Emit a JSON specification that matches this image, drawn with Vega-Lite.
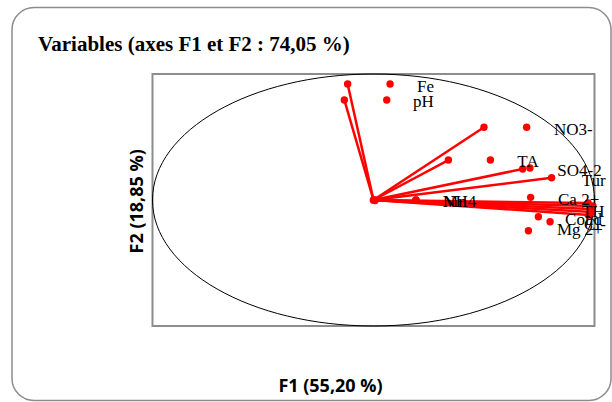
{
  "$schema": "https://vega.github.io/schema/vega-lite/v6.json",
  "width": 599,
  "height": 393,
  "autosize": "none",
  "padding": {"left": 12, "top": 7.5, "right": 1, "bottom": 1.5},
  "background": "white",
  "title": {
    "text": "Variables (axes F1 et F2 : 74,05 %)",
    "font": "Liberation Serif",
    "fontSize": 21,
    "fontWeight": "bold",
    "color": "black",
    "anchor": "start",
    "frame": "group",
    "baseline": "alphabetic",
    "offset": 0,
    "dx": 26,
    "dy": 64
  },
  "config": {
    "view": {"stroke": "#8c8c8c", "strokeWidth": 1.5, "cornerRadius": 22},
    "axis": {"grid": false, "domain": false, "ticks": false, "labels": false,
      "titleFont": "Open Sans", "titleFontSize": 18, "titleFontWeight": "bold", "titleColor": "black"}
  },
  "datasets": {
    "vectors": [
      {"variable": "Fe", "F1": -0.117, "F2": 0.921},
      {"variable": "pH", "F1": -0.132, "F2": 0.794},
      {"variable": "NO3-", "F1": 0.500, "F2": 0.577},
      {"variable": "TA", "F1": 0.339, "F2": 0.317},
      {"variable": "SO4-2", "F1": 0.675, "F2": 0.246},
      {"variable": "Tur", "F1": 0.806, "F2": 0.177},
      {"variable": "NH4", "F1": 0.007, "F2": 0.000},
      {"variable": "Mn", "F1": 0.007, "F2": -0.004},
      {"variable": "Ca 2+", "F1": 0.971, "F2": -0.024},
      {"variable": "TH", "F1": 0.993, "F2": -0.048},
      {"variable": "Cond", "F1": 0.984, "F2": -0.071},
      {"variable": "Cl-", "F1": 0.989, "F2": -0.095},
      {"variable": "Mg 2+", "F1": 0.975, "F2": -0.119}
    ],
    "markers": [
      {"variable": "Fe", "F1": 0.075, "F2": 0.921},
      {"variable": "pH", "F1": 0.060, "F2": 0.794},
      {"variable": "NO3-", "F1": 0.693, "F2": 0.577},
      {"variable": "TA", "F1": 0.529, "F2": 0.318},
      {"variable": "SO4-2", "F1": 0.708, "F2": 0.254},
      {"variable": "NH4", "F1": 0.192, "F2": 0.000},
      {"variable": "Mn", "F1": 0.192, "F2": 0.000},
      {"variable": "Ca 2+", "F1": 0.711, "F2": 0.021},
      {"variable": "Cond", "F1": 0.746, "F2": -0.133},
      {"variable": "Cl-", "F1": 0.799, "F2": -0.172},
      {"variable": "Mg 2+", "F1": 0.701, "F2": -0.244}
    ],
    "labels": [
      {"variable": "Fe", "F1": 0.197, "F2": 0.861},
      {"variable": "pH", "F1": 0.179, "F2": 0.742},
      {"variable": "NO3-", "F1": 0.817, "F2": 0.516},
      {"variable": "TA", "F1": 0.651, "F2": 0.264},
      {"variable": "SO4-2", "F1": 0.832, "F2": 0.187},
      {"variable": "Tur", "F1": 0.942, "F2": 0.111},
      {"variable": "NH4", "F1": 0.315, "F2": -0.052},
      {"variable": "Mn", "F1": 0.315, "F2": -0.052},
      {"variable": "Ca 2+", "F1": 0.835, "F2": -0.040},
      {"variable": "TH", "F1": 0.943, "F2": -0.131},
      {"variable": "Cond", "F1": 0.867, "F2": -0.198},
      {"variable": "Cl-", "F1": 0.953, "F2": -0.238},
      {"variable": "Mg 2+", "F1": 0.830, "F2": -0.278}
    ]
  },
  "encoding": {
    "x": {"type": "quantitative", "scale": {"domain": [-1.6357, 1.0747], "nice": false, "zero": false},
      "axis": {"orient": "bottom", "title": "F1 (55,20 %)", "titleX": 318, "titleY": -9.5, "titleBaseline": "alphabetic", "titleAlign": "center"}},
    "y": {"type": "quantitative", "scale": {"domain": [-1.5913, 1.5278], "nice": false, "zero": false},
      "axis": {"orient": "left", "title": "F2 (18,85 %)", "titleX": 130.5, "titleY": 193.3, "titleAngle": 270, "titleBaseline": "alphabetic", "titleAlign": "center"}}
  },
  "layer": [
    {
      "data": {"values": [{}]},
      "mark": {"type": "rect", "fill": null, "stroke": "#8c8c8c", "strokeWidth": 2},
      "encoding": {
        "x": {"datum": -1, "type": "quantitative"},
        "x2": {"datum": 1},
        "y": {"datum": -1, "type": "quantitative"},
        "y2": {"datum": 1}
      }
    },
    {
      "data": {"values": [{}]},
      "mark": {"type": "point", "filled": false, "color": "black", "strokeWidth": 1, "opacity": 1,
        "shape": "M -1 0 C -1 -0.3149 -0.5523 -0.5701 0 -0.5701 C 0.5523 -0.5701 1 -0.3149 1 0 C 1 0.3149 0.5523 0.5701 0 0.5701 C -0.5523 0.5701 -1 0.3149 -1 0 Z",
        "size": 195364},
      "encoding": {
        "x": {"datum": 0, "type": "quantitative"},
        "y": {"datum": 0, "type": "quantitative"}
      }
    },
    {
      "data": {"name": "vectors"},
      "mark": {"type": "rule", "color": "#ff0000", "strokeWidth": 2.5},
      "encoding": {
        "x": {"field": "F1", "type": "quantitative"},
        "y": {"field": "F2", "type": "quantitative"},
        "x2": {"datum": 0},
        "y2": {"datum": 0}
      }
    },
    {
      "data": {"name": "vectors"},
      "mark": {"type": "circle", "color": "#ff0000", "size": 55, "opacity": 1},
      "encoding": {
        "x": {"field": "F1", "type": "quantitative"},
        "y": {"field": "F2", "type": "quantitative"}
      }
    },
    {
      "data": {"name": "markers"},
      "mark": {"type": "circle", "color": "#ff0000", "size": 55, "opacity": 1},
      "encoding": {
        "x": {"field": "F1", "type": "quantitative"},
        "y": {"field": "F2", "type": "quantitative"}
      }
    },
    {
      "data": {"values": [{}]},
      "mark": {"type": "circle", "color": "#ff0000", "size": 60, "opacity": 1},
      "encoding": {
        "x": {"datum": 0, "type": "quantitative"},
        "y": {"datum": 0, "type": "quantitative"}
      }
    },
    {
      "data": {"name": "labels"},
      "mark": {"type": "text", "font": "Liberation Serif", "fontSize": 17, "color": "black", "align": "left", "baseline": "alphabetic"},
      "encoding": {
        "x": {"field": "F1", "type": "quantitative"},
        "y": {"field": "F2", "type": "quantitative"},
        "text": {"field": "variable"}
      }
    }
  ]
}
